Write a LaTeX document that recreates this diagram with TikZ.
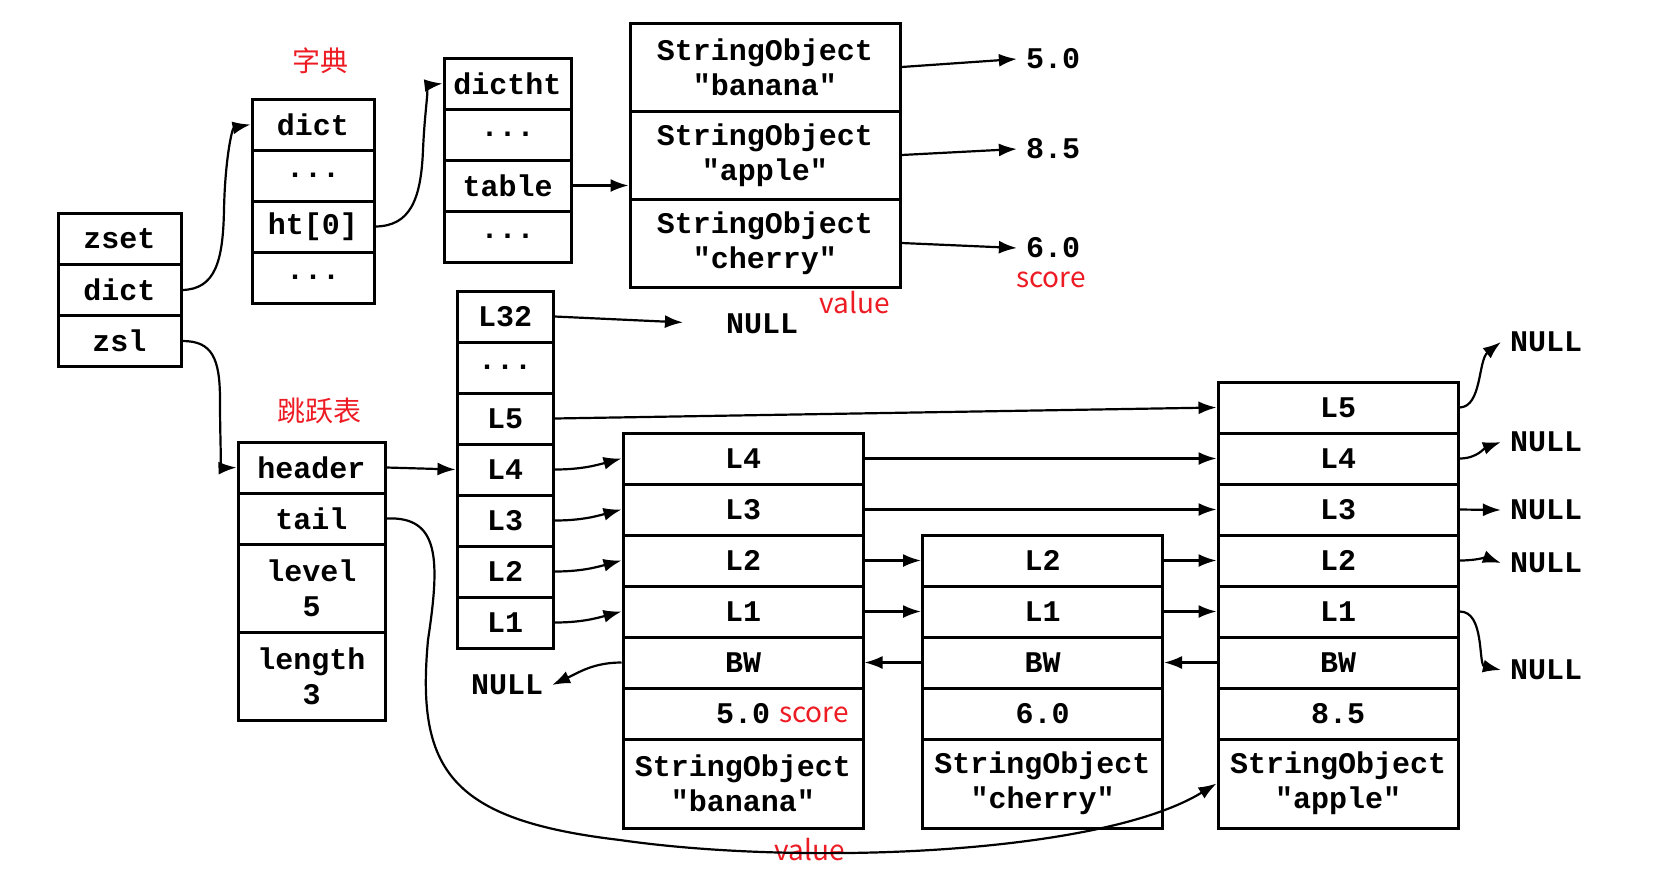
\documentclass[tikz,border=0pt]{standalone}
\usepackage{fontspec}
\setmonofont{Liberation Mono}
\newfontfamily\cjk{Noto Sans CJK SC}
\usetikzlibrary{arrows.meta}
\definecolor{zred}{RGB}{237,28,36}

\begin{document}
\begin{tikzpicture}[x=1pt, y=-1pt,
    cell/.style={draw, line width=3pt, inner sep=0, minimum height=51pt, align=center, font=\ttfamily\bfseries\fontsize{30}{35}\selectfont},
    tall/.style={cell, minimum height=88pt},
    word/.style={inner sep=8pt, font=\ttfamily\bfseries\fontsize{30}{35}\selectfont},
    note/.style={inner sep=0, text=zred, font=\cjk\fontsize{28}{30}\selectfont},
    >={Latex[length=18pt, width=13pt]}, line width=2.2pt]
				\useasboundingbox (0,0) rectangle (1653,884);
				% zset
				\node[cell, minimum width=123pt] (z0) at (119.5,239) {zset};
				\node[cell, minimum width=123pt] (z1) at (119.5,290) {dict};
				\node[cell, minimum width=123pt] (z2) at (119.5,341) {zsl};
				% dict
				\node[note] at (320,61) {字典};
				\node[cell, minimum width=122pt] (d0) at (313,124.5) {dict};
				\node[cell, minimum width=122pt] (d1) at (313,175.5) {...};
				\node[cell, minimum width=122pt] (d2) at (313,226.5) {ht[0]};
				\node[cell, minimum width=122pt] (d3) at (313,277.5) {...};
				% dictht
				\node[cell, minimum width=127pt] (t0) at (507.5,83.5) {dictht};
				\node[cell, minimum width=127pt] (t1) at (507.5,134.5) {...};
				\node[cell, minimum width=127pt] (t2) at (507.5,185.5) {table};
				\node[cell, minimum width=127pt] (t3) at (507.5,236.5) {...};
				% table entries
				\node[tall, minimum width=270pt] (s0) at (765,67) {StringObject\\"banana"};
				\node[tall, minimum width=270pt] (s1) at (765,155) {StringObject\\"apple"};
				\node[tall, minimum width=270pt] (s2) at (765,243) {StringObject\\"cherry"};
				\node[word] (v0) at (1053,59) {5.0};
				\node[word] (v1) at (1053,149) {8.5};
				\node[word] (v2) at (1053,248) {6.0};
				\node[note] at (1051,280) {score};
				\node[note] at (855,303) {value};
				% header levels
				\node[cell, minimum width=96pt] (k0) at (505,316.5) {L32};
				\node[cell, minimum width=96pt] (k1) at (505,367.5) {...};
				\node[cell, minimum width=96pt] (k2) at (505,418.5) {L5};
				\node[cell, minimum width=96pt] (k3) at (505,469.5) {L4};
				\node[cell, minimum width=96pt] (k4) at (505,520.5) {L3};
				\node[cell, minimum width=96pt] (k5) at (505,571.5) {L2};
				\node[cell, minimum width=96pt] (k6) at (505,622.5) {L1};
				\node[word] (nl) at (762,324) {NULL};
				% zskiplist
				\node[note] at (319,411) {跳跃表};
				\node[cell, minimum width=147pt] (h0) at (311.5,467.5) {header};
				\node[cell, minimum width=147pt] (h1) at (311.5,518.5) {tail};
				\node[tall, minimum width=147pt] (h2) at (311.5,588) {level\\5};
				\node[tall, minimum width=147pt] (h3) at (311.5,676) {length\\3};
				% node banana
				\node[cell, minimum width=240pt] (n10) at (743,458.5) {L4};
				\node[cell, minimum width=240pt] (n11) at (743,509.5) {L3};
				\node[cell, minimum width=240pt] (n12) at (743,560.5) {L2};
				\node[cell, minimum width=240pt] (n13) at (743,611.5) {L1};
				\node[cell, minimum width=240pt] (n14) at (743,662.5) {BW};
				\node[cell, minimum width=240pt] (n15) at (743,713.5) {5.0};
				\node[tall, minimum width=240pt, minimum height=89pt] (n16) at (743,783.5) {StringObject\\"banana"};
				\node[note] at (814,715) {score};
				% node cherry
				\node[cell, minimum width=240pt] (n20) at (1042.5,560.5) {L2};
				\node[cell, minimum width=240pt] (n21) at (1042.5,611.5) {L1};
				\node[cell, minimum width=240pt] (n22) at (1042.5,662.5) {BW};
				\node[cell, minimum width=240pt] (n23) at (1042.5,713.5) {6.0};
				\node[tall, minimum width=240pt, minimum height=89pt] (n24) at (1042.5,783.5) {StringObject\\"cherry"};
				% node apple
				\node[cell, minimum width=240pt] (n30) at (1338,407.5) {L5};
				\node[cell, minimum width=240pt] (n31) at (1338,458.5) {L4};
				\node[cell, minimum width=240pt] (n32) at (1338,509.5) {L3};
				\node[cell, minimum width=240pt] (n33) at (1338,560.5) {L2};
				\node[cell, minimum width=240pt] (n34) at (1338,611.5) {L1};
				\node[cell, minimum width=240pt] (n35) at (1338,662.5) {BW};
				\node[cell, minimum width=240pt] (n36) at (1338,713.5) {8.5};
				\node[tall, minimum width=240pt, minimum height=89pt] (n37) at (1338,783.5) {StringObject\\"apple"};
				% NULL ends
				\node[word] (u0) at (1546,342) {NULL};
				\node[word] (u1) at (1546,442) {NULL};
				\node[word] (u2) at (1546,510) {NULL};
				\node[word] (u3) at (1546,563) {NULL};
				\node[word] (u4) at (1546,670) {NULL};
				\node[word] (u5) at (507,685) {NULL};
				\node[note] at (810,850) {value};
				% pointers
				\draw[->] (z1.east) .. controls (215,289) and (223,262) .. (224,210) .. controls (225,160) and (232,128) .. (d0.west);
				\draw[->] (z2.east) .. controls (212,341) and (220,358) .. (220,400) .. controls (220,445) and (222,468) .. (h0.west);
				\draw[->] (d2.east) .. controls (410,226) and (421,200) .. (423,150) .. controls (425,105) and (430,85) .. (t0.west);
				\draw[->] (t2.east) -- (t2.east -| s1.west);
				\draw[->] (s0.east) to (v0.west);
				\draw[->] (s1.east) to (v1.west);
				\draw[->] (s2.east) to (v2.west);
				\draw[->, shorten >=34pt] (k0.east) to (nl.west);
				\draw[->] (h0.east) to (k3.west);
				\draw[->] (h1.east) .. controls (440,516) and (440,560) .. (428,640) .. controls (416,770) and (450,820) .. (620,840) .. controls (800,866) and (1100,855) .. (n37.west);
				\draw[->] (k2.east) to (n30.west);
				\draw[->] (k3.east) to[out=0, in=195] (n10.west);
				\draw[->] (k4.east) to[out=0, in=195] (n11.west);
				\draw[->] (k5.east) to[out=0, in=195] (n12.west);
				\draw[->] (k6.east) to[out=0, in=195] (n13.west);
				\draw[->] (n10.east) to (n31.west);
				\draw[->] (n11.east) to (n32.west);
				\draw[->] (n12.east) to (n20.west);
				\draw[->] (n13.east) to (n21.west);
				\draw[->] (n20.east) to (n33.west);
				\draw[->] (n21.east) to (n34.west);
				\draw[->] (n14.west) to[out=180, in=25] (u5.east);
				\draw[->] (n22.west) to (n14.east);
				\draw[->] (n35.west) to (n22.east);
				\draw[->] (n30.east) .. controls (1482,407) and (1478,360) .. (u0.west);
				\draw[->] (n31.east) to[out=0, in=200] (u1.west);
				\draw[->] (n32.east) to (u2.west);
				\draw[->] (n33.east) to[out=0, in=160] (u3.west);
				\draw[->] (n34.east) .. controls (1485,611) and (1478,665) .. (u4.west);
			\end{tikzpicture}
\end{document}
